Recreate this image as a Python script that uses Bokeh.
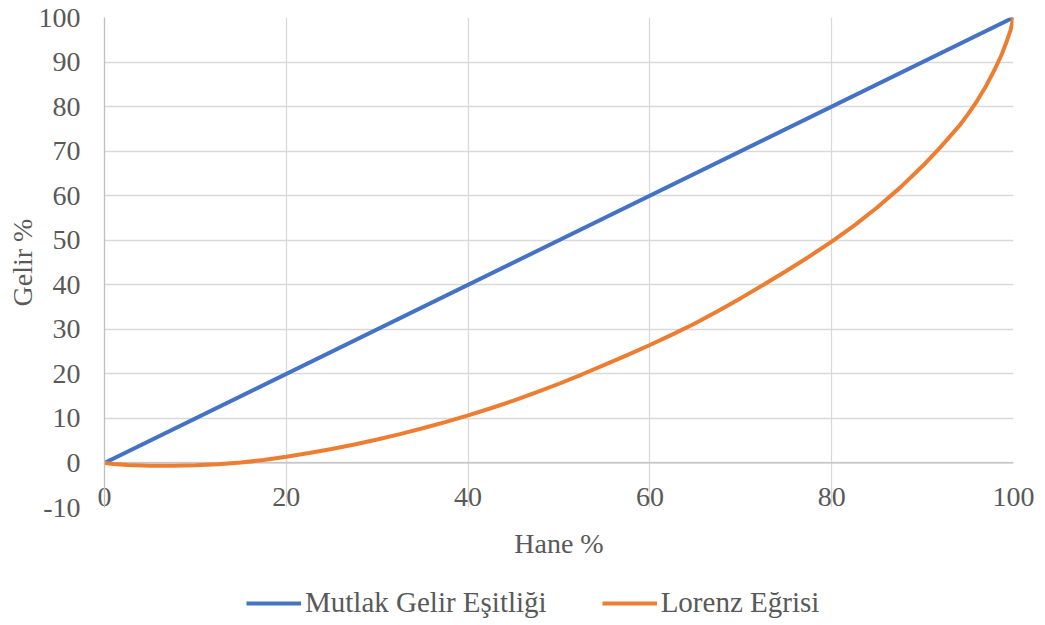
from bokeh.plotting import figure
from bokeh.layouts import column
from bokeh.models import Range1d, FixedTicker, Span, Legend, LegendItem
from bokeh.embed import file_html
from bokeh.resources import INLINE

# ---- data ----
equality_x = [0, 100]
equality_y = [0, 100]

lorenz_x = [0, 1, 2.5, 5, 7.5, 10, 12.5, 15, 17.5, 20, 22.5, 25, 27.5, 30,
            32.5, 35, 37.5, 40, 42.5, 45, 47.5, 50, 52.5, 55, 57.5, 60, 62.5,
            65, 67.5, 70, 72.5, 75, 77.5, 80, 82.5, 85, 87.5, 90, 92, 94, 95,
            96, 97, 98, 98.7, 99.3, 99.7, 100]
lorenz_y = [0, -0.25, -0.45, -0.6, -0.62, -0.5, -0.28, 0.1, 0.65, 1.38, 2.22,
            3.14, 4.16, 5.28, 6.48, 7.78, 9.18, 10.68, 12.28, 14.0, 15.83,
            17.78, 19.85, 22.01, 24.21, 26.48, 28.86, 31.36, 34.1, 37.0, 40.0,
            43.1, 46.3, 49.7, 53.35, 57.35, 61.75, 66.65, 70.95, 75.6, 78.3,
            81.3, 84.7, 88.6, 91.7, 94.9, 97.3, 100]

x_ticks = [0, 20, 40, 60, 80, 100]
y_ticks = [-10, 0, 10, 20, 30, 40, 50, 60, 70, 80, 90, 100]

series_names = ["Mutlak Gelir Eşitliği", "Lorenz Eğrisi"]
x_title = "Hane %"
y_title = "Gelir %"

FONT = "Liberation Serif"
TXT = "#595959"
GRID = "#d9d9d9"
AXIS = "#bfbfbf"
BLUE = "#4472C4"
ORANGE = "#ED7D31"

W = 1040

p = figure(width=W, height=573, output_backend="svg", toolbar_location=None,
           x_range=Range1d(0, 100), y_range=Range1d(-10, 100),
           min_border_left=104, min_border_right=27, min_border_top=17,
           min_border_bottom=66)
p.outline_line_color = None
p.background_fill_color = "white"
p.border_fill_color = "white"

# grids
p.xgrid.ticker = FixedTicker(ticks=x_ticks)
p.ygrid.ticker = FixedTicker(ticks=y_ticks)
for g in (p.xgrid, p.ygrid):
    g.grid_line_color = GRID
    g.grid_line_width = 1.3

# x axis
xa = p.xaxis[0]
xa.ticker = FixedTicker(ticks=x_ticks)
xa.axis_line_color = None
xa.major_tick_line_color = None
xa.minor_tick_line_color = None
xa.major_tick_out = 0
xa.major_tick_in = 0
xa.minor_tick_out = 0
xa.major_label_standoff = -20
xa.major_label_text_font = FONT
xa.major_label_text_font_size = "28px"
xa.major_label_text_color = TXT
xa.axis_label = x_title
xa.axis_label_standoff = 19
xa.axis_label_text_font = FONT
xa.axis_label_text_font_size = "28px"
xa.axis_label_text_font_style = "normal"
xa.axis_label_text_color = TXT

# y axis
ya = p.yaxis[0]
ya.ticker = FixedTicker(ticks=y_ticks)
ya.major_label_overrides = {-10: "-10"}
ya.axis_line_color = AXIS
ya.axis_line_width = 1.3
ya.major_tick_line_color = None
ya.minor_tick_line_color = None
ya.major_tick_out = 0
ya.major_tick_in = 0
ya.minor_tick_out = 0
ya.major_label_standoff = 24
ya.major_label_text_font = FONT
ya.major_label_text_font_size = "28px"
ya.major_label_text_color = TXT
ya.axis_label = y_title
ya.axis_label_standoff = -2
ya.axis_label_text_font = FONT
ya.axis_label_text_font_size = "28px"
ya.axis_label_text_font_style = "normal"
ya.axis_label_text_color = TXT

# horizontal axis line at y = 0
zero_line = Span(location=0, dimension="width", line_color=AXIS, line_width=1.3,
                 level="underlay")
p.add_layout(zero_line)

p.line(equality_x, equality_y, line_color=BLUE, line_width=4)
p.line(lorenz_x, lorenz_y, line_color=ORANGE, line_width=4)

# ---- legend strip below the chart (its lines lie outside its view) ----
lg = figure(width=W, height=47, output_backend="svg", toolbar_location=None,
            x_axis_type=None, y_axis_type=None,
            x_range=Range1d(0, 100), y_range=Range1d(1000, 1001),
            min_border_left=0, min_border_right=0, min_border_top=0,
            min_border_bottom=0)
lg.outline_line_color = None
lg.grid.visible = False
lk1 = lg.line(equality_x, equality_y, line_color=BLUE, line_width=4)
lk2 = lg.line(lorenz_x, lorenz_y, line_color=ORANGE, line_width=4)

legend = Legend(items=[LegendItem(label=series_names[0], renderers=[lk1]),
                       LegendItem(label=series_names[1], renderers=[lk2])],
                orientation="horizontal", location=(142, 1),
                glyph_width=55, glyph_height=20, label_standoff=4, spacing=55,
                padding=0, margin=0, border_line_color=None,
                background_fill_alpha=0,
                label_text_font=FONT, label_text_font_size="29px",
                label_text_color=TXT)
lg.add_layout(legend, "center")

layout = column(p, lg, spacing=0)
open("out.html", "w").write(file_html(layout, INLINE))
